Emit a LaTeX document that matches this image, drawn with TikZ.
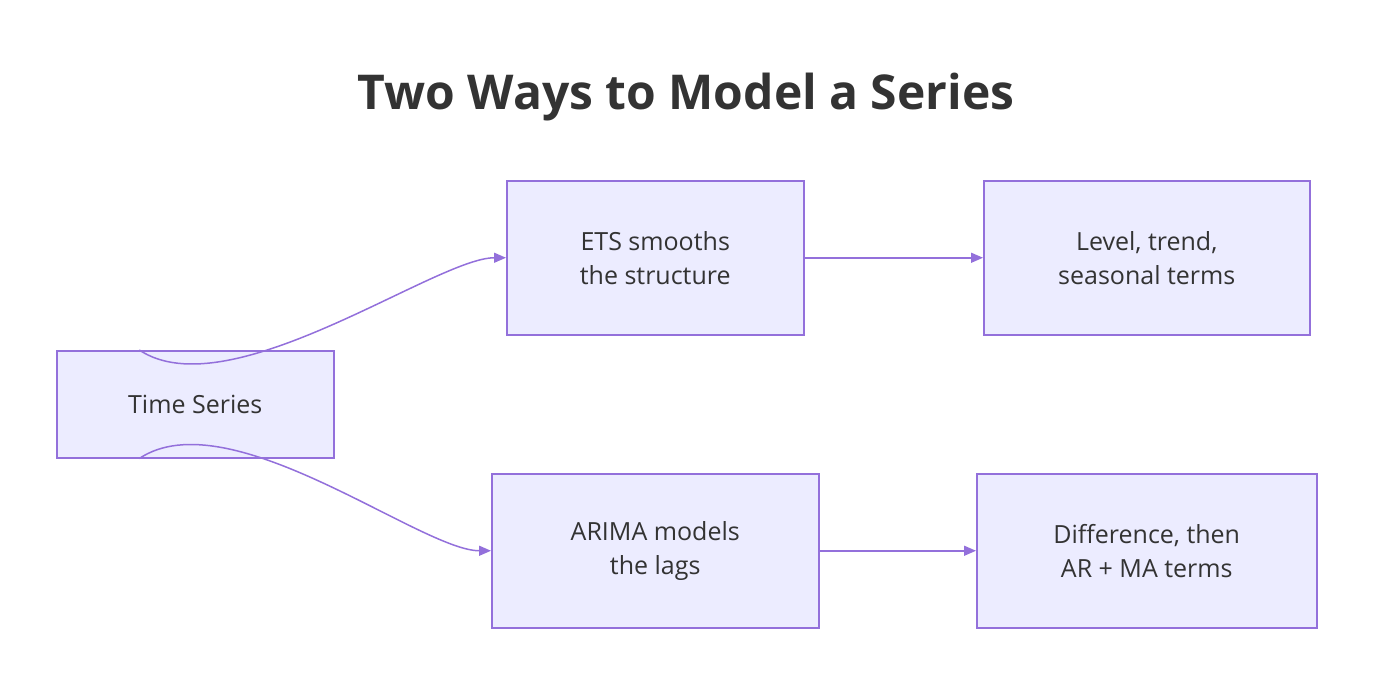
\documentclass[tikz,border=0pt]{standalone}
\usepackage{fontspec}
\setmainfont{Open Sans}
\usetikzlibrary{arrows.meta}
\definecolor{nfill}{HTML}{ECECFF}
\definecolor{nline}{HTML}{9370DB}
\definecolor{ntext}{HTML}{333333}
\tikzset{
  box/.style={draw=nline,fill=nfill,line width=1.5pt,text=ntext,font=\fontsize{25}{34}\selectfont,align=center,inner sep=0pt,anchor=north west},
  link/.style={draw=nline,line width=1.5pt,-{Triangle[length=12pt,width=10pt]}}
}
\begin{document}
\begin{tikzpicture}[x=1pt,y=-1pt]
\useasboundingbox (0,0) rectangle (1388,690);
\node[text=ntext,font=\fontsize{48}{56}\selectfont\bfseries] (title) at (686,97) {Two Ways to Model a Series};
\node[box,minimum width=277pt,minimum height=107pt] (ts) at (56,350) {Time Series};
\node[box,minimum width=297pt,minimum height=154pt] (ets) at (506,180) {ETS smooths\\the structure};
\node[box,minimum width=326pt,minimum height=154pt] (lvl) at (983,180) {Level, trend,\\seasonal terms};
\node[box,minimum width=327pt,minimum height=154pt] (ar) at (491,473) {ARIMA models\\the lags};
\node[box,minimum width=340pt,minimum height=154pt] (dif) at (976,473) {Difference, then\\AR + MA terms};
\draw[link] ([xshift=-56pt]ts.north) .. controls +(90pt,-60pt) and +(-70pt,0) .. (ets.west);
\draw[link] ([xshift=-56pt]ts.south) .. controls +(90pt,60pt) and +(-70pt,0) .. (ar.west);
\draw[link] (ets.east) -- (lvl.west);
\draw[link] (ar.east) -- (dif.west);
\end{tikzpicture}
\end{document}
